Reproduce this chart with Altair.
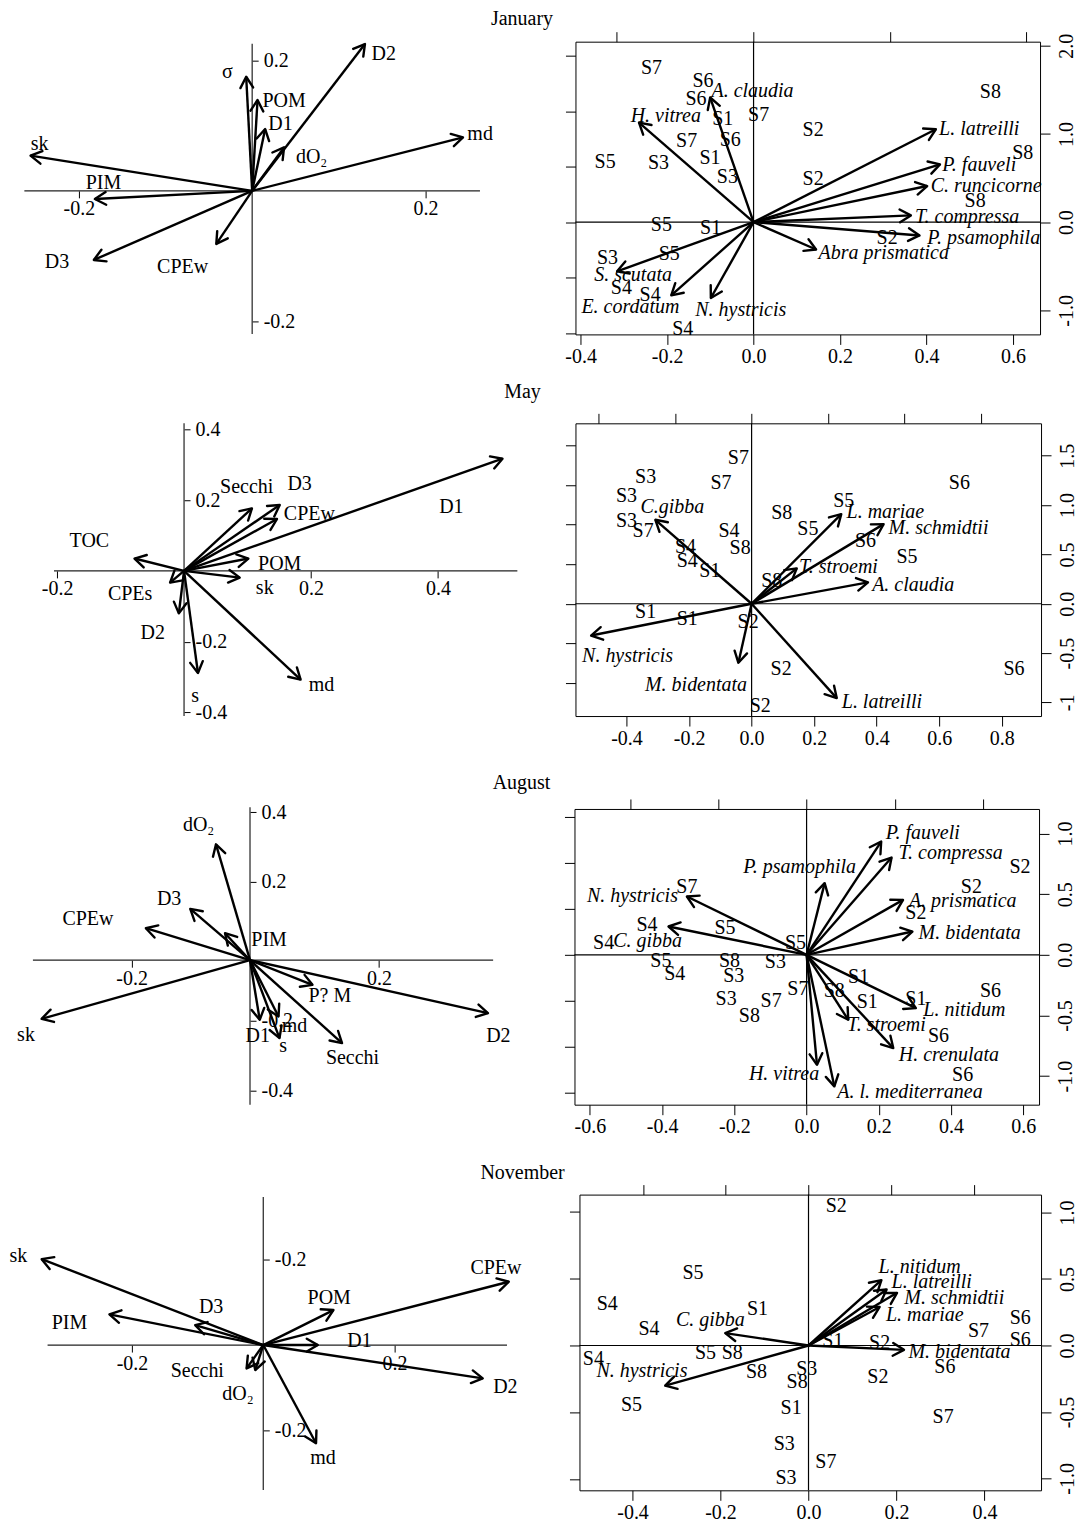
import math
import altair as alt
import pandas as pd

FONT = "Liberation Serif"
FS = 20
HEAD = "M -0.5 0.866 L 0 0 L 0.5 0.866"

# ======================= JANUARY =======================
jan_env_names = ["sk", "PIM", "D3", "CPEw", "σ", "POM", "D1", "dO₂", "D2", "md"]
jan_env_x = [-0.2559, -0.1816, -0.1828, -0.0414, -0.0069, 0.0062, 0.0150, 0.0368, 0.1302, 0.2434]
jan_env_y = [0.0540, -0.0125, -0.1060, -0.0814, 0.1750, 0.1393, 0.0948, 0.0667, 0.2252, 0.0821]
jan_env_lx = [-0.2453, -0.1717, -0.2253, -0.0803, -0.0287, 0.0368, 0.0328, 0.0686, 0.1520, 0.2632]
jan_env_ly = [0.0718, 0.0115, -0.1096, -0.1172, 0.1817, 0.1372, 0.1025, 0.0514, 0.2098, 0.0872]

jan_sp_names = ["H. vitrea", "A. claudia", "L. latreilli", "P. fauveli", "C. runcicorne", "T. compressa",
                "P. psamophila", "Abra prismatica", "S. scutata", "E. cordatum", "N. hystricis"]
jan_sp_x = [-0.265, -0.1004, 0.4217, 0.4313, 0.4016, 0.3639, 0.3839, 0.1446, -0.3157, -0.1904, -0.0988]
jan_sp_y = [1.128, 1.4125, 1.053, 0.6553, 0.409, 0.076, -0.151, -0.310, -0.557, -0.8295, -0.860]
jan_sp_lx = [-0.203, -0.0024, 0.522, 0.522, 0.538, 0.494, 0.5325, 0.301, -0.2787, -0.285, -0.0297]
jan_sp_ly = [1.2045, 1.489, 1.053, 0.644, 0.409, 0.057, -0.178, -0.349, -0.602, -0.966, -0.992]

jan_st_names = ["S7", "S6", "S6", "S1", "S7", "S2", "S8", "S7", "S6", "S5", "S3", "S1",
                "S3", "S2", "S8", "S8", "S5", "S1", "S2", "S3", "S5", "S4", "S4", "S4"]
jan_st_x = [-0.746, -0.369, -0.420, -0.224, 0.038, 0.437, 1.735, -0.489, -0.170, -1.086, -0.695, -0.318,
            -0.191, 0.437, 1.972, 1.624, -0.674, -0.313, 0.979, -1.069, -0.616, -0.967, -0.756, -0.517]
jan_st_y = [2.785, 2.545, 2.215, 1.854, 1.926, 1.655, 2.347, 1.462, 1.475, 1.088, 1.060, 1.150,
            0.818, 0.771, 1.240, 0.379, -0.054, -0.103, -0.283, -0.644, -0.572, -1.197, -1.318, -1.926]

# ======================= MAY =======================
may_env_names = ["D1", "Secchi", "D3", "CPEw", "POM", "sk", "TOC", "CPEs", "D2", "s", "md"]
may_env_x = [0.5016, 0.1069, 0.1507, 0.1464, 0.1013, 0.0877, -0.0780, -0.0220, -0.0082, 0.0219, 0.1836]
may_env_y = [0.3169, 0.1767, 0.1863, 0.1466, 0.0349, -0.0190, 0.0349, -0.0330, -0.1200, -0.2884, -0.3073]
may_env_lx = [0.4210, 0.0987, 0.1820, 0.1974, 0.1507, 0.1271, -0.1492, -0.0850, -0.0493, 0.0175, 0.2165]
may_env_ly = [0.1816, 0.2363, 0.2460, 0.1608, 0.0190, -0.0490, 0.0851, -0.0660, -0.1750, -0.3527, -0.3215]

may_sp_names = ["C.gibba", "N. hystricis", "M. bidentata", "L. latreilli", "A. claudia",
                "M. schmidtii", "L. mariae", "T. stroemi"]
may_sp_x = [-0.3078, -0.5133, -0.0422, 0.2722, 0.3722, 0.4222, 0.2867, 0.1444]
may_sp_y = [0.8513, -0.3220, -0.5980, -0.9560, 0.2175, 0.8075, 0.9086, 0.3590]
may_sp_lx = [-0.2533, -0.3967, -0.1778, 0.4167, 0.5167, 0.5978, 0.4278, 0.2778]
may_sp_ly = [0.9830, -0.5310, -0.8280, -0.9960, 0.1940, 0.7637, 0.9255, 0.3690]

may_st_names = ["S7", "S3", "S7", "S3", "S3", "S7", "S4", "S4", "S8", "S4", "S1", "S8",
                "S5", "S5", "S6", "S5", "S6", "S8", "S1", "S1", "S2", "S2", "S2", "S6"]
may_st_x = [-0.173, -1.386, -0.400, -1.636, -1.636, -1.418, -0.295, -0.864, -0.150, -0.841, -0.545, 0.395,
            1.205, 0.736, 1.491, 2.032, 2.718, 0.264, -1.386, -0.841, -0.045, 0.386, 0.114, 3.432]
may_st_y = [3.687, 3.209, 3.041, 2.723, 2.093, 1.842, 1.842, 1.422, 1.397, 1.086, 0.835, 2.286,
            2.597, 1.883, 1.573, 1.187, 3.041, 0.583, -0.197, -0.382, -0.449, -1.657, -2.588, -1.641]

# ======================= AUGUST =======================
aug_origin = (-0.0085, -0.0252)
aug_env_names = ["dO₂", "D3", "CPEw", "PIM", "sk", "D2", "Secchi", "P? M", "md", "s", "D1"]
aug_env_x = [-0.0635, -0.1051, -0.1769, -0.0489, -0.3454, 0.3762, 0.1403, 0.0925, 0.0376, 0.0392, 0.0072]
aug_env_y = [0.3081, 0.1223, 0.0668, 0.0524, -0.1938, -0.1775, -0.2637, -0.0961, -0.1871, -0.2493, -0.1966]
aug_env_lx = [-0.0916, -0.1393, -0.2706, 0.0224, -0.3707, 0.3931, 0.1572, 0.1206, 0.0634, 0.0449, 0.0039]
aug_env_ly = [0.3637, 0.1511, 0.0936, 0.0332, -0.2397, -0.2445, -0.3068, -0.1296, -0.2158, -0.2733, -0.2445]

aug_sp_names = ["P. fauveli", "T. compressa", "P. psamophila", "A. prismatica", "M. bidentata",
                "N. hystricis", "C. gibba", "L. nitidum", "T. stroemi", "H. crenulata", "H. vitrea",
                "A. l. mediterranea"]
aug_sp_x = [0.2065, 0.2353, 0.0500, 0.2670, 0.2930, -0.3314, -0.3823, 0.3026, 0.1153, 0.2400, 0.0288, 0.0768]
aug_sp_y = [0.9340, 0.8020, 0.5910, 0.4530, 0.1920, 0.4810, 0.2335, -0.4396, -0.5360, -0.7690, -0.9066, -1.0850]
aug_sp_lx = [0.3218, 0.3987, -0.0192, 0.4323, 0.4515, -0.4822, -0.4400, 0.4370, 0.2210, 0.3940, -0.0624, 0.2863]
aug_sp_ly = [1.0030, 0.8380, 0.7280, 0.4450, 0.1840, 0.4810, 0.1100, -0.4530, -0.5770, -0.8240, -0.9835, -1.1320]

aug_st_names = ["S7", "S2", "S2", "S2", "S4", "S5", "S4", "S5", "S5", "S8", "S3", "S4",
                "S3", "S1", "S7", "S8", "S3", "S1", "S7", "S1", "S6", "S8", "S6", "S6"]
aug_st_x = [-1.355, 2.416, 1.866, 1.237, -1.807, -0.923, -2.298, -0.126, -1.650, -0.872, -0.353, -1.493,
            -0.825, 0.589, -0.098, 0.314, -0.911, 0.687, -0.401, 1.237, 2.082, -0.648, 1.493, 1.767]
aug_st_y = [1.482, 1.916, 1.482, 0.904, 0.651, 0.578, 0.253, 0.253, -0.130, -0.130, -0.159, -0.419,
            -0.470, -0.492, -0.738, -0.781, -0.962, -1.034, -1.012, -0.962, -0.795, -1.338, -1.772, -2.603]

# ======================= NOVEMBER =======================
nov_env_names = ["sk", "PIM", "D3", "POM", "CPEw", "D1", "D2", "Secchi", "dO₂", "md"]
nov_env_x = [-0.3376, -0.2344, -0.1037, 0.1069, 0.3741, 0.0831, 0.3344, -0.0254, -0.0122, 0.0804]
nov_env_y = [0.2004, 0.0715, 0.0466, 0.0816, 0.1476, 0.0000, -0.0777, -0.0544, -0.0583, -0.2291]
nov_env_lx = [-0.3730, -0.2952, -0.0794, 0.1005, 0.3545, 0.1466, 0.3688, -0.1005, -0.0386, 0.0910]
nov_env_ly = [0.2082, 0.0505, 0.0893, 0.1087, 0.1802, 0.0093, -0.0971, -0.0606, -0.1150, -0.2625]

nov_sp_names = ["L. nitidum", "L. latreilli", "M. schmidtii", "L. mariae", "M. bidentata",
                "C. gibba", "N. hystricis"]
nov_sp_x = [0.1657, 0.1775, 0.2012, 0.1617, 0.2170, -0.1893, -0.3258]
nov_sp_y = [0.4918, 0.4212, 0.3960, 0.2900, -0.0328, 0.0933, -0.3026]
nov_sp_lx = [0.2525, 0.2801, 0.3314, 0.2643, 0.3432, -0.2233, -0.3787]
nov_sp_ly = [0.5876, 0.4741, 0.3607, 0.2270, -0.0504, 0.1942, -0.1892]

nov_st_names = ["S2", "S5", "S4", "S1", "S4", "S6", "S7", "S6", "S1", "S2", "S4", "S5",
                "S8", "S8", "S3", "S8", "S6", "S2", "S5", "S1", "S7", "S3", "S7", "S3"]
nov_st_x = [0.336, -1.397, -2.434, -0.617, -1.930, 2.560, 2.056, 2.560, 0.294, 0.860, -2.602, -1.246,
            -0.923, -0.629, -0.021, -0.138, 1.649, 0.839, -2.140, -0.210, 1.628, -0.294, 0.210, -0.273]
nov_st_y = [2.082, 1.089, 0.617, 0.552, 0.251, 0.411, 0.216, 0.075, 0.065, 0.035, -0.201, -0.115,
            -0.115, -0.391, -0.351, -0.552, -0.326, -0.477, -0.888, -0.938, -1.064, -1.480, -1.741, -1.982]


def fmt(dec=1):
    return "(datum.value < 0 ? '-' : '') + format(abs(datum.value), '.%df')" % dec


def arrows_df(names, ex, ey, ox, oy, kx, ky):
    df = pd.DataFrame({"name": names, "x0": ox, "y0": oy, "x": ex, "y": ey})
    df["angle"] = [math.degrees(math.atan2((a - ox) * kx, (b - oy) * ky)) % 360 for a, b in zip(ex, ey)]
    return df


def arrow_layers(df, lab, xenc, yenc, italic):
    shafts = alt.Chart(df).mark_rule(color="black", strokeWidth=2.4).encode(
        x=xenc("x0"), y=yenc("y0"), x2="x:Q", y2="y:Q")
    heads = alt.Chart(df).mark_point(shape=HEAD, size=650, filled=False, color="black", opacity=1,
                                     strokeWidth=2.4, strokeJoin="round", strokeCap="round").encode(
        x=xenc("x"), y=yenc("y"), angle=alt.Angle("angle:Q", scale=None))
    text = alt.Chart(lab).mark_text(font=FONT, fontSize=FS, color="black", align="center", baseline="middle",
                                    fontStyle="italic" if italic else "normal").encode(
        x=xenc("lx"), y=yenc("ly"), text="name:N")
    return [shafts, heads, text]


def env_panel(names, ex, ey, lx, ly, xdom, ydom, W, H, xline, yline, xticks, yticks,
              origin=(0.0, 0.0), ylab=None):
    ox, oy = origin
    kx = W / (xdom[1] - xdom[0])
    ky = H / (ydom[1] - ydom[0])
    df = arrows_df(names, ex, ey, ox, oy, kx, ky)
    lab = pd.DataFrame({"name": names, "lx": lx, "ly": ly})
    xs = alt.Scale(domain=list(xdom), nice=False, zero=False)
    ys = alt.Scale(domain=list(ydom), nice=False, zero=False)
    yline_px = (ydom[1] - oy) * ky
    xline_px = (ox - xdom[0]) * kx
    xaxis = alt.Axis(orient="bottom", offset=yline_px - H, values=xticks, domain=False, grid=False,
                     tickSize=7, tickColor="black", tickWidth=1, labelFont=FONT, labelFontSize=FS,
                     labelColor="black", labelPadding=1, labelExpr=fmt(1), title=None)
    yaxis = alt.Axis(orient="right", offset=xline_px - W, values=yticks, domain=False, grid=False,
                     tickSize=6, tickColor="black", tickWidth=1, labelFont=FONT, labelFontSize=FS,
                     labelColor="black", labelPadding=5, labelAlign="left", labelBaseline="middle",
                     labelExpr=ylab if ylab else fmt(1), title=None)

    def xenc(f):
        return alt.X(f + ":Q", scale=xs, axis=xaxis)

    def yenc(f):
        return alt.Y(f + ":Q", scale=ys, axis=yaxis)

    hl = pd.DataFrame({"a": [xline[0]], "b": [xline[1]], "c": [oy]})
    vl = pd.DataFrame({"a": [ox], "c": [yline[0]], "d": [yline[1]]})
    h = alt.Chart(hl).mark_rule(color="#222", strokeWidth=1.2).encode(x=xenc("a"), x2="b:Q", y=yenc("c"))
    v = alt.Chart(vl).mark_rule(color="#222", strokeWidth=1.2).encode(x=xenc("a"), y=yenc("c"), y2="d:Q")
    return alt.layer(h, v, *arrow_layers(df, lab, xenc, yenc, False)).properties(width=W, height=H)


def species_panel(sp_names, sx, sy, slx, sly, st_names, stx, sty, xdom, ydom, x2dom, y2dom, W, H,
                  xticks, yticks, x2ticks, y2ticks, ylab=None):
    kx = W / (xdom[1] - xdom[0])
    ky = H / (ydom[1] - ydom[0])
    df = arrows_df(sp_names, sx, sy, 0.0, 0.0, kx, ky)
    lab = pd.DataFrame({"name": sp_names, "lx": slx, "ly": sly})
    st = pd.DataFrame({"name": st_names, "sx": stx, "sy": sty})
    xs = alt.Scale(domain=list(xdom), nice=False, zero=False)
    ys = alt.Scale(domain=list(ydom), nice=False, zero=False)
    xs2 = alt.Scale(domain=list(x2dom), nice=False, zero=False)
    ys2 = alt.Scale(domain=list(y2dom), nice=False, zero=False)
    common = dict(grid=False, domain=True, domainColor="black", domainWidth=1, tickColor="black",
                  tickWidth=1, tickSize=10, title=None)
    xaxis = alt.Axis(orient="bottom", values=xticks, labelFont=FONT, labelFontSize=FS, labelColor="black",
                     labelPadding=2, labelExpr=fmt(1), **common)
    yaxis = alt.Axis(orient="right", values=yticks, labelFont=FONT, labelFontSize=FS, labelColor="black",
                     labelAngle=270, labelAlign="center", labelBaseline="top", labelPadding=6,
                     labelExpr=ylab if ylab else fmt(1), **common)
    xaxis2 = alt.Axis(orient="top", values=x2ticks, labels=False, **common)
    yaxis2 = alt.Axis(orient="left", values=y2ticks, labels=False, **common)

    def xenc(f):
        return alt.X(f + ":Q", scale=xs, axis=xaxis)

    def yenc(f):
        return alt.Y(f + ":Q", scale=ys, axis=yaxis)

    hl = pd.DataFrame({"a": [xdom[0]], "b": [xdom[1]], "c": [0.0]})
    vl = pd.DataFrame({"a": [0.0], "c": [ydom[0]], "d": [ydom[1]]})
    h = alt.Chart(hl).mark_rule(color="black", strokeWidth=1.2).encode(x=xenc("a"), x2="b:Q", y=yenc("c"))
    v = alt.Chart(vl).mark_rule(color="black", strokeWidth=1.2).encode(x=xenc("a"), y=yenc("c"), y2="d:Q")
    primary = alt.layer(h, v, *arrow_layers(df, lab, xenc, yenc, True))
    stations = alt.Chart(st).mark_text(font=FONT, fontSize=FS, color="black", align="center",
                                       baseline="middle").encode(
        x=alt.X("sx:Q", scale=xs2, axis=xaxis2),
        y=alt.Y("sy:Q", scale=ys2, axis=yaxis2),
        text="name:N")
    return alt.layer(stations, primary).resolve_scale(x="independent", y="independent").properties(
        width=W, height=H)


def row(title, left, right, spacing, offset):
    return alt.hconcat(left, right, spacing=spacing, bounds="flush",
                       title=alt.TitleParams(text=title, font=FONT, fontSize=FS, fontWeight="normal",
                                             color="black", anchor="middle", frame="bounds",
                                             offset=offset, dx=-20))


WL = 520

jan = row("January",
          env_panel(jan_env_names, jan_env_x, jan_env_y, jan_env_lx, jan_env_ly,
                    (-0.2819, 0.3179), (-0.2202, 0.2288), WL, 293,
                    (-0.263, 0.263), (-0.2197, 0.2258), [-0.2, 0.2], [-0.2, 0.2]),
          species_panel(jan_sp_names, jan_sp_x, jan_sp_y, jan_sp_lx, jan_sp_ly,
                        jan_st_names, jan_st_x, jan_st_y,
                        (-0.412, 0.6627), (-1.2727, 2.0455), (-1.303, 2.099), (-2.027, 3.2545), 465, 293,
                        [-0.4, -0.2, 0.0, 0.2, 0.4, 0.6], [-1, 0, 1, 2], [-1, 0, 1, 2],
                        [-2, -1, 0, 1, 2, 3]),
          48, 2)

may = row("May",
          env_panel(may_env_names, may_env_x, may_env_y, may_env_lx, may_env_ly,
                    (-0.2773, 0.5410), (-0.4102, 0.4170), WL, 293,
                    (-0.2049, 0.5250), (-0.4102, 0.4170), [-0.2, 0.2, 0.4], [-0.4, -0.2, 0.2, 0.4]),
          species_panel(may_sp_names, may_sp_x, may_sp_y, may_sp_lx, may_sp_ly,
                        may_st_names, may_st_x, may_st_y,
                        (-0.5633, 0.9256), (-1.138, 1.829), (-2.303, 3.786), (-2.831, 4.551), 466, 293,
                        [-0.4, -0.2, 0.0, 0.2, 0.4, 0.6, 0.8], [-1, -0.5, 0, 0.5, 1, 1.5],
                        [-2, -1, 0, 1, 2, 3], [-2, -1, 0, 1, 2, 3, 4],
                        ylab="datum.value == -1 ? '-1' : " + fmt(1)),
          48, 11)

aug = row("August",
          env_panel(aug_env_names, aug_env_x, aug_env_y, aug_env_lx, aug_env_ly,
                    (-0.3998, 0.4402), (-0.4408, 0.4098), WL, 296,
                    (-0.3595, 0.3846), (-0.4408, 0.4144), [-0.2, 0.2], [-0.4, -0.2, 0.2, 0.4],
                    origin=aug_origin),
          species_panel(aug_sp_names, aug_sp_x, aug_sp_y, aug_sp_lx, aug_sp_ly,
                        aug_st_names, aug_st_x, aug_st_y,
                        (-0.6427, 0.6436), (-1.236, 1.203), (-2.628, 2.632), (-3.254, 3.167), 465, 296,
                        [-0.6, -0.4, -0.2, 0.0, 0.2, 0.4, 0.6], [-1, -0.5, 0, 0.5, 1],
                        [-2, -1, 0, 1, 2], [-3, -2, -1, 0, 1, 2, 3]),
          47, 5)

nov = row("November",
          env_panel(nov_env_names, nov_env_x, nov_env_y, nov_env_lx, nov_env_ly,
                    (-0.3889, 0.4026), (-0.3388, 0.3509), WL, 296,
                    (-0.3286, 0.3714), (-0.3378, 0.3455), [-0.2, 0.2], [-0.2, 0.2],
                    ylab="'-0.2'"),
          species_panel(nov_sp_names, nov_sp_x, nov_sp_y, nov_sp_lx, nov_sp_ly,
                        nov_st_names, nov_st_x, nov_st_y,
                        (-0.5207, 0.5286), (-1.0895, 1.135), (-2.770, 2.812), (-2.168, 2.258), 462, 296,
                        [-0.4, -0.2, 0.0, 0.2, 0.4], [-1, -0.5, 0, 0.5, 1],
                        [-2, -1, 0, 1, 2], [-2, -1, 0, 1, 2]),
          52, 1)

chart = alt.vconcat(
    alt.vconcat(jan, may, spacing=15),
    alt.vconcat(aug, nov, spacing=26),
    spacing=25,
).properties(
    padding={"left": 0, "top": 0, "right": 0, "bottom": 0}
).configure(font=FONT).configure_view(strokeWidth=0)

chart.save("out.html", embed_options={"renderer": "svg", "actions": False})
